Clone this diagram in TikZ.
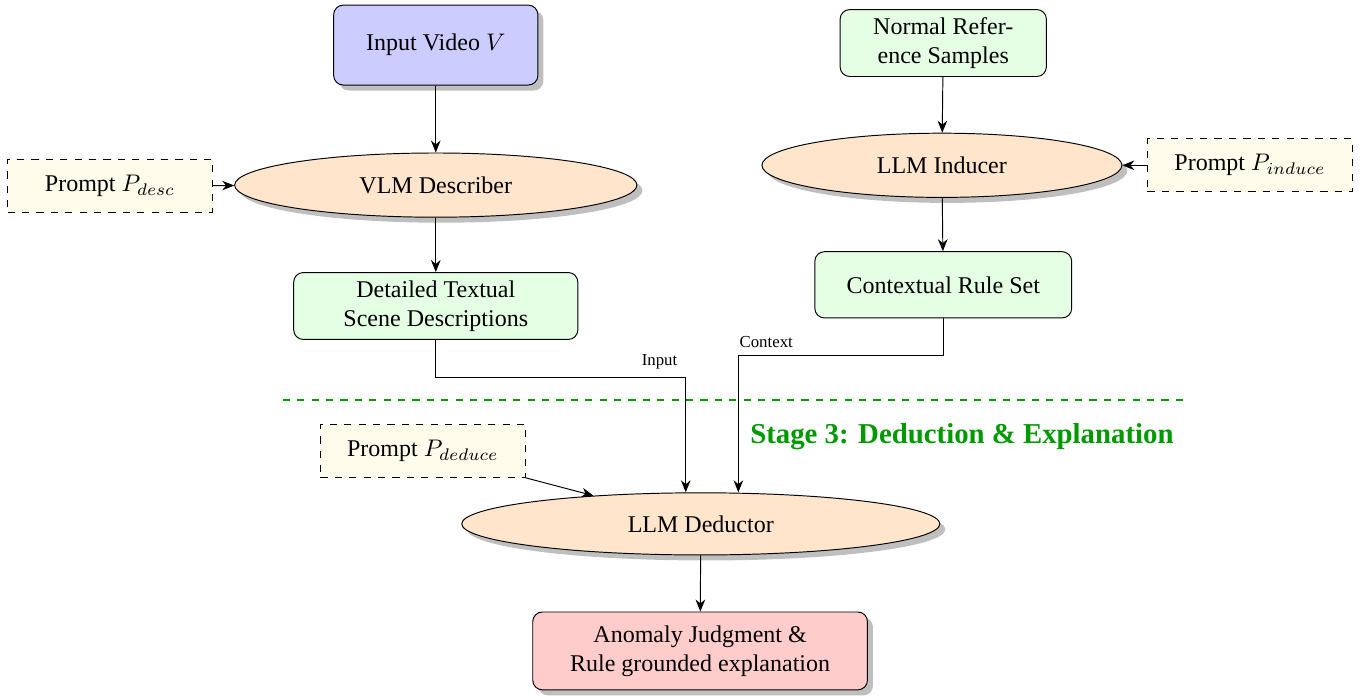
\documentclass[tikz,border=0pt]{standalone}
\usepackage{fontspec}
\setmainfont{Liberation Serif}
\usetikzlibrary{shapes.geometric, shadows, arrows.meta}
\definecolor{promptfill}{RGB}{255,252,235}
\definecolor{stagegreen}{RGB}{0,153,0}

\begin{document}
\begin{tikzpicture}[
    >={Stealth[length=5pt, width=4pt]},
    iobox/.style={rectangle, rounded corners, draw=black, drop shadow, align=center},
    databox/.style={rectangle, rounded corners, draw=black, fill=green!10, align=center},
    llmnode/.style={ellipse, draw=black, fill=orange!20, drop shadow},
    promptbox/.style={rectangle, draw=black, dashed, fill=promptfill,
        minimum width=3cm, minimum height=0.78cm}
]
    \useasboundingbox (0, 0) rectangle (19.97, -10.22);

    % stages 1 and 2
    \node[iobox, fill=blue!20, minimum width=2.99cm, minimum height=1.17cm] (video) at (6.38, -0.66) {Input Video $V$};
    \node[llmnode, minimum width=5.89cm, minimum height=0.94cm] (describer) at (6.38, -2.71) {VLM Describer};
    \node[promptbox] (pdesc) at (1.61, -2.72) {Prompt $P_{desc}$};
    \node[databox, minimum width=4.16cm, minimum height=0.98cm] (scene) at (6.38, -4.48) {Detailed Textual\\Scene Descriptions};

    \node[databox, minimum width=3.02cm, minimum height=0.98cm] (normal) at (13.81, -0.63) {Normal Refer-\\ence Samples};
    \node[llmnode, minimum width=5.27cm, minimum height=0.94cm] (inducer) at (13.79, -2.42) {LLM Inducer};
    \node[promptbox] (pinduce) at (18.30, -2.42) {Prompt $P_{induce}$};
    \node[databox, minimum width=3.76cm, minimum height=0.97cm] (rules) at (13.81, -4.17) {Contextual Rule Set};

    \draw[->] (video) -- (describer);
    \draw[->] (pdesc) -- (describer);
    \draw[->] (describer) -- (scene);
    \draw[->] (normal) -- (inducer);
    \draw[->] (pinduce) -- (inducer);
    \draw[->] (inducer) -- (rules);

    % stage 3
    \draw[stagegreen, thick, dashed] (4.14, -5.86) -- (17.36, -5.86);
    \node[anchor=west, font=\large\bfseries, text=stagegreen] (stage) at (10.86, -6.40) {Stage 3: Deduction \& Explanation};

    \node[promptbox] (pdeduce) at (6.19, -6.60) {Prompt $P_{deduce}$};
    \node[llmnode, minimum width=7.0cm, minimum height=0.91cm] (deductor) at (10.26, -7.67) {LLM Deductor};
    \node[iobox, fill=red!20, minimum width=4.9cm, minimum height=1.14cm] (verdict) at (10.25, -9.53) {Anomaly Judgment \&\\Rule grounded explanation};

    \coordinate (inbend) at (10.04, -5.53);
    \coordinate (ctxbend) at (10.81, -5.21);
    \draw[->] (scene.south) |- (inbend) node[above left, font=\scriptsize] {Input} -- (inbend |- deductor.north);
    \draw[->] (rules.south) |- (ctxbend) node[above right, font=\scriptsize, xshift=-3pt] {Context} -- (ctxbend |- deductor.north);
    \draw[->] (pdeduce) -- (deductor);
    \draw[->] (deductor) -- (verdict);
\end{tikzpicture}
\end{document}
